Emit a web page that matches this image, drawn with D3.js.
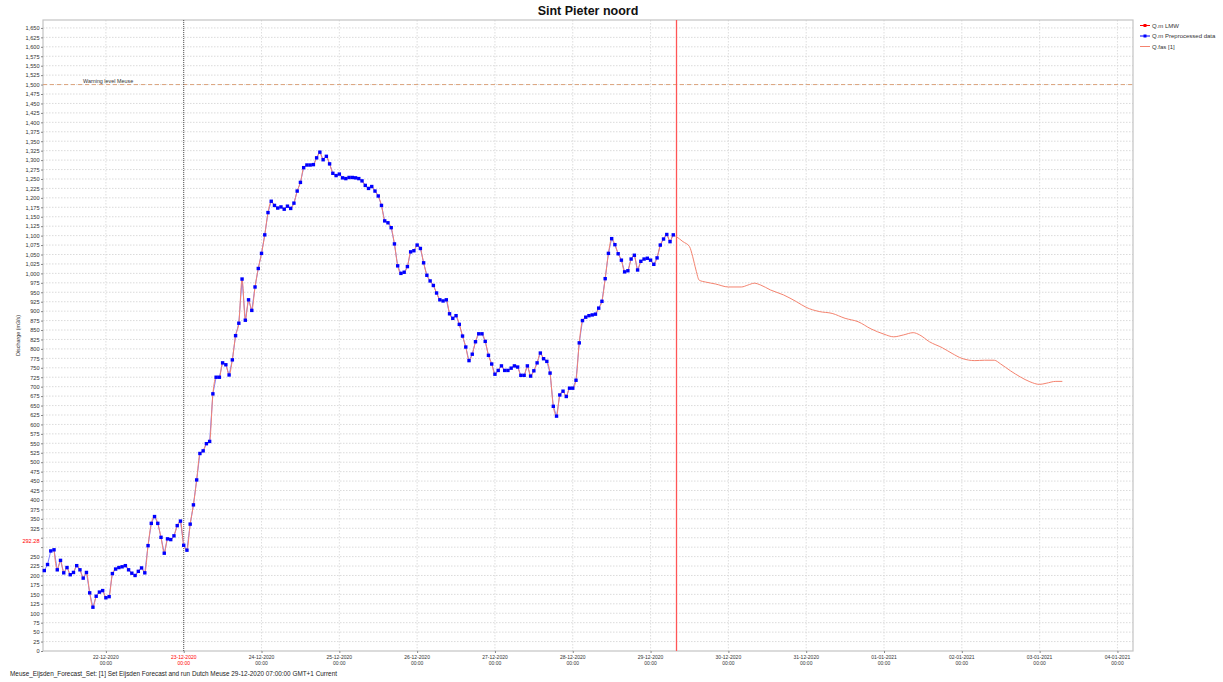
<!DOCTYPE html>
<html><head><meta charset="utf-8">
<script src="https://cdn.jsdelivr.net/npm/d3@7"></script>
<style>body{margin:0;background:#fff} svg{display:block} text{font-family:"Liberation Sans",Arial,sans-serif}</style>
</head><body><svg id="c" width="1223" height="682"></svg>
<script>
// ---------- DATA ----------
const title = "Sint Pieter noord";
const obsStart = "2020-12-21T05:00";          // hourly observations
const obsValues = [213,229,265,268,215,240,207,221,202,208,
226,215,193,208,154,116,145,156,160,141,
144,205,217,221,223,226,215,206,200,211,
220,207,279,338,356,338,301,259,297,295,
305,332,344,280,267,336,387,453,523,530,
549,555,681,725,725,763,758,731,771,835,
868,985,876,930,902,964,1013,1053,1102,1161,
1191,1180,1173,1176,1170,1178,1172,1186,1218,1241,
1280,1287,1287,1288,1306,1321,1301,1310,1290,1265,
1259,1263,1253,1251,1254,1254,1253,1251,1245,1233,
1225,1230,1218,1205,1180,1139,1134,1121,1078,1020,
1000,1003,1018,1057,1060,1075,1066,1028,995,980,
968,948,930,927,930,893,881,888,865,834,
805,769,786,819,840,840,820,783,760,733,
743,755,743,743,749,755,752,730,730,755,
728,742,763,789,774,767,736,648,622,678,
688,674,696,696,717,816,875,884,888,890,
892,908,926,986,1053,1092,1076,1052,1035,1004,
1007,1038,1048,1009,1032,1038,1040,1035,1024,1041,
1075,1091,1103,1084,1102];
const fasStartIndex = 3;
const fcTimes = ["2020-12-29T08:00","2020-12-29T10:00","2020-12-29T12:00","2020-12-29T13:00","2020-12-29T14:00","2020-12-29T15:00","2020-12-29T17:00","2020-12-29T20:00",
"2020-12-30T00:00","2020-12-30T04:00","2020-12-30T06:00","2020-12-30T08:00","2020-12-30T10:00","2020-12-30T13:00","2020-12-30T17:00","2020-12-30T21:00",
"2020-12-31T00:00","2020-12-31T04:00","2020-12-31T08:00","2020-12-31T12:00","2020-12-31T16:00","2020-12-31T20:00",
"2021-01-01T00:00","2021-01-01T03:00","2021-01-01T06:00","2021-01-01T09:00","2021-01-01T11:00","2021-01-01T14:00","2021-01-01T18:00","2021-01-01T21:00",
"2021-01-02T00:00","2021-01-02T04:00","2021-01-02T07:00","2021-01-02T10:00","2021-01-02T12:00","2021-01-02T15:00","2021-01-02T18:00","2021-01-02T21:00",
"2021-01-03T00:00","2021-01-03T02:00","2021-01-03T05:00","2021-01-03T07:00"];
const fcValues = [1097,1084,1071,1044,1009,982,977,972,
964,964,969,974,969,956,943,925,
910,899,894,881,872,853,
839,832,837,843,837,819,803,788,
775,769,770,770,760,742,726,713,
706,709,714,714];
const xTickDates = ["2020-12-22","2020-12-23","2020-12-24","2020-12-25","2020-12-26","2020-12-27","2020-12-28","2020-12-29","2020-12-30","2020-12-31","2021-01-01","2021-01-02","2021-01-03","2021-01-04"];
const yTickValues = d3.range(0, 1651, 25);
const yHidden = [275, 300];
const markValue = 292.28;
const warningLevel = 1500;
const warningLabel = "Warning level Meuse";
const t0Time = "2020-12-29T08:00";
const refTime = "2020-12-23T00:00";
const legendItems = [
  {label:"Q.m LMW", color:"#ff0000", marker:true},
  {label:"Q.m Preprocessed data", color:"#0000ff", marker:true},
  {label:"Q.fas [1]", color:"#f4836f", marker:false}
];
const footer = "Meuse_Eijsden_Forecast_Set: [1] Set Eijsden Forecast and run Dutch Meuse 29-12-2020 07:00:00 GMT+1 Current";
const yLabel = "Discharge (m3/s)";

// ---------- CHART ----------
const svg = d3.select("#c");
const P = d3.timeParse("%Y-%m-%dT%H:%M");
const PD = d3.timeParse("%Y-%m-%d");
const L = 43, R = 1133, T = 20, B = 651;
const x = d3.scaleTime().domain([P("2020-12-21T04:36"), P("2021-01-04T04:48")]).range([L, R]);
const y = d3.scaleLinear().domain([0, 1671]).range([B, T]);

const t0obs = P(obsStart);
const obs = obsValues.map((v,i)=>({t:d3.timeHour.offset(t0obs,i), v}));
const fc = fcTimes.map((s,i)=>({t:P(s), v:fcValues[i]}));

// grid
svg.append("g").selectAll("line").data(yTickValues.filter(d=>d>0)).join("line")
  .attr("x1",L).attr("x2",R).attr("y1",d=>y(d)).attr("y2",d=>y(d))
  .attr("stroke","#d2d2d2").attr("stroke-width",0.8).attr("stroke-dasharray","1.5,1.5");
svg.append("g").selectAll("line").data(xTickDates).join("line")
  .attr("x1",d=>x(PD(d))).attr("x2",d=>x(PD(d))).attr("y1",T).attr("y2",B)
  .attr("stroke","#d6d6d6").attr("stroke-width",0.8).attr("stroke-dasharray","1.5,1.5");

// frame
svg.append("rect").attr("x",L).attr("y",T).attr("width",R-L).attr("height",B-T)
  .attr("fill","none").attr("stroke","#c4c4c4").attr("stroke-width",1.2);

// y axis
const ya = svg.append("g").attr("transform",`translate(${L},0)`)
  .call(d3.axisLeft(y).tickValues(yTickValues).tickSize(2).tickPadding(1.5).tickFormat(d=>yHidden.includes(d)?"":d3.format(",")(d)));
ya.select(".domain").remove();
ya.selectAll("line").attr("stroke","#888");
ya.selectAll("text").attr("font-size",5.6).attr("fill","#333").attr("font-family","Liberation Sans, Arial, sans-serif");
svg.append("text").attr("x",L-3.5).attr("y",y(markValue)+2).attr("text-anchor","end")
  .attr("font-size",5.6).attr("fill","#ff0000").text(markValue.toFixed(2));

// x axis
const xa = svg.append("g").attr("transform",`translate(0,${B})`)
  .call(d3.axisBottom(x).tickValues(xTickDates.map(PD)).tickSize(2).tickFormat(""));
xa.select(".domain").remove();
xa.selectAll("line").attr("stroke","#888");
const xl = svg.append("g").selectAll("text").data(xTickDates).join("text")
  .attr("x",d=>x(PD(d))).attr("text-anchor","middle").attr("font-size",5)
  .attr("fill",d=>(d+"T00:00")===refTime?"#ff0000":"#333");
xl.append("tspan").attr("x",d=>x(PD(d))).attr("y",B+8).text(d=>d3.timeFormat("%d-%m-%Y")(PD(d)));
xl.append("tspan").attr("x",d=>x(PD(d))).attr("y",B+14).text("00:00");

// y label
svg.append("text").attr("transform",`translate(20,${(T+B)/2}) rotate(-90)`).attr("text-anchor","middle")
  .attr("font-size",5.4).attr("fill","#333").text(yLabel);

// warning level
svg.append("line").attr("x1",L).attr("x2",R).attr("y1",y(warningLevel)).attr("y2",y(warningLevel))
  .attr("stroke","#dca47c").attr("stroke-width",1).attr("stroke-dasharray","4,3");
svg.append("text").attr("x",83).attr("y",y(warningLevel)-2).attr("font-size",5.4).attr("fill","#333").text(warningLabel);

// reference line 23-12
svg.append("line").attr("x1",x(P(refTime))).attr("x2",x(P(refTime))).attr("y1",T).attr("y2",B)
  .attr("stroke","#444").attr("stroke-width",0.9).attr("stroke-dasharray","1,1");

// T0 line
svg.append("line").attr("x1",x(P(t0Time))).attr("x2",x(P(t0Time))).attr("y1",T).attr("y2",B)
  .attr("stroke","#ff5555").attr("stroke-width",1.3);

// series
const line = d3.line().x(d=>x(d.t)).y(d=>y(d.v));
svg.append("path").datum(obs).attr("d",line).attr("fill","none").attr("stroke","#8080ff").attr("stroke-width",1);
const fas = obs.slice(fasStartIndex).concat(fc);
svg.append("path").datum(fas).attr("d",line.curve(d3.curveMonotoneX)).attr("fill","none").attr("stroke","#f4836f").attr("stroke-width",1);
svg.append("g").selectAll("rect").data(obs).join("rect")
  .attr("x",d=>x(d.t)-1.7).attr("y",d=>y(d.v)-1.7).attr("width",3.4).attr("height",3.4).attr("fill","#0000ff");

// title
svg.append("text").attr("x",(L+R)/2).attr("y",15).attr("text-anchor","middle")
  .attr("font-size",12.5).attr("font-weight","bold").attr("fill","#111").text(title);

// legend
const lg = svg.append("g").selectAll("g").data(legendItems).join("g")
  .attr("transform",(d,i)=>`translate(1140,${25.5+i*10.5})`);
lg.append("line").attr("x1",0).attr("x2",10).attr("stroke",d=>d.color).attr("stroke-width",1);
lg.filter(d=>d.marker).append("rect").attr("x",3.5).attr("y",-1.5).attr("width",3).attr("height",3).attr("fill",d=>d.color);
lg.append("text").attr("x",12).attr("y",2).attr("font-size",6).attr("fill","#333").text(d=>d.label);

// footer
svg.append("text").attr("x",10).attr("y",676).attr("font-size",6.4).attr("fill","#222").text(footer);
</script></body></html>
